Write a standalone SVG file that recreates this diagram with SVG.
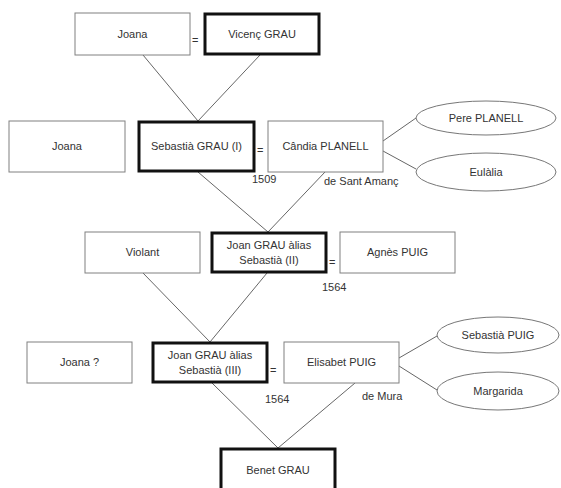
<svg xmlns="http://www.w3.org/2000/svg" width="561" height="488" viewBox="0 0 561 488">
<style>
.b{fill:#fff;stroke:#808080;stroke-width:1}
.t{fill:#fff;stroke:#111;stroke-width:3}
.e{fill:#fff;stroke:#777;stroke-width:1}
text{font-family:"Liberation Sans",Arial,sans-serif;font-size:11px;fill:#333}
.c{text-anchor:middle}
#connectors line{stroke:#666;stroke-width:1}
</style>
<rect width="561" height="488" fill="#fff"/>
<g id="connectors">
<line x1="143" y1="55" x2="198" y2="121"/>
<line x1="260" y1="55" x2="198" y2="121"/>
<line x1="198" y1="172" x2="268" y2="232"/>
<line x1="325" y1="172" x2="268" y2="232"/>
<line x1="383" y1="141" x2="416" y2="118"/>
<line x1="383" y1="151" x2="416" y2="169"/>
<line x1="143" y1="273" x2="210" y2="342"/>
<line x1="267" y1="273" x2="210" y2="342"/>
<line x1="399" y1="358" x2="437" y2="336"/>
<line x1="399" y1="366" x2="437" y2="390"/>
<line x1="212" y1="383" x2="278" y2="448"/>
<line x1="355" y1="383" x2="278" y2="448"/>
</g>
<g id="joana1"><rect class="b" x="75" y="13" width="115" height="42"/><text class="c" x="132.5" y="38">Joana</text></g>
<text x="192" y="44">=</text>
<g id="vicenc"><rect class="t" x="205" y="14" width="114" height="40"/><text class="c" x="262" y="38">Vicenç GRAU</text></g>

<g id="joana2"><rect class="b" x="9" y="121" width="116" height="51"/><text class="c" x="67" y="150">Joana</text></g>
<g id="sebastia1"><rect class="t" x="139" y="122" width="115" height="49"/><text class="c" x="196.5" y="150">Sebastià GRAU (I)</text></g>
<text x="257" y="154">=</text>
<g id="candia"><rect class="b" x="268" y="121" width="115" height="51"/><text class="c" x="325.5" y="150">Cândia PLANELL</text></g>
<text x="252" y="183">1509</text>
<text x="324" y="185">de Sant Amanç</text>
<g id="pere"><ellipse class="e" cx="486" cy="118" rx="70" ry="17"/><text class="c" x="486" y="122">Pere PLANELL</text></g>
<g id="eulalia"><ellipse class="e" cx="486" cy="172" rx="70" ry="19"/><text class="c" x="486" y="176">Eulàlia</text></g>

<g id="violant"><rect class="b" x="85" y="232" width="115" height="41"/><text class="c" x="142.5" y="256">Violant</text></g>
<g id="joan2"><rect class="t" x="212" y="233" width="114" height="39"/><text class="c" x="269" y="249">Joan GRAU àlias</text><text class="c" x="269" y="264">Sebastià (II)</text></g>
<text x="329" y="266">=</text>
<g id="agnes"><rect class="b" x="340" y="232" width="115" height="41"/><text class="c" x="397.5" y="256">Agnès PUIG</text></g>
<text x="322" y="291">1564</text>

<g id="joana3"><rect class="b" x="27" y="342" width="105" height="41"/><text class="c" x="79.5" y="366">Joana ?</text></g>
<g id="joan3"><rect class="t" x="153" y="343" width="114" height="39"/><text class="c" x="210" y="359">Joan GRAU àlias</text><text class="c" x="210" y="374">Sebastià (III)</text></g>
<text x="270" y="374">=</text>
<g id="elisabet"><rect class="b" x="284" y="342" width="115" height="41"/><text class="c" x="341.5" y="366">Elisabet PUIG</text></g>
<text x="265" y="403">1564</text>
<text x="362" y="400">de Mura</text>
<g id="sebpuig"><ellipse class="e" cx="498" cy="335" rx="61" ry="18"/><text class="c" x="498" y="339">Sebastià PUIG</text></g>
<g id="margarida"><ellipse class="e" cx="498" cy="391" rx="61" ry="19"/><text class="c" x="498" y="395">Margarida</text></g>

<g id="benet"><rect class="t" x="221" y="449" width="114" height="45"/><text class="c" x="278" y="474">Benet GRAU</text></g>
</svg>
